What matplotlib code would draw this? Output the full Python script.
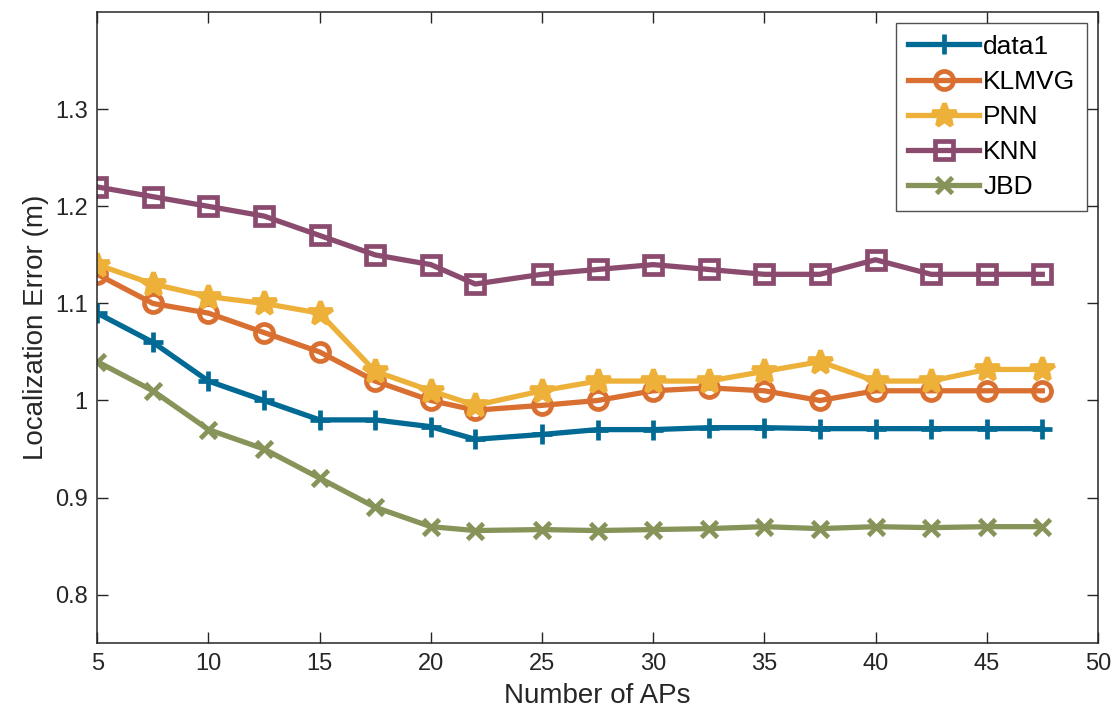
import numpy as np
import matplotlib.pyplot as plt

plt.rcParams['font.family'] = ['Liberation Sans', 'DejaVu Sans']

# number of access points
n_aps = [5, 7.5, 10, 12.5, 15, 17.5, 20, 22, 25, 27.5, 30, 32.5, 35, 37.5, 40, 42.5, 45, 47.5]

data1 = [1.09, 1.06, 1.02, 1.00, 0.98, 0.98, 0.973, 0.96, 0.965, 0.97, 0.97, 0.972,
         0.972, 0.971, 0.971, 0.971, 0.971, 0.971]
klmvg = [1.13, 1.10, 1.09, 1.07, 1.05, 1.02, 1.00, 0.99, 0.995, 1.00, 1.01, 1.013,
         1.01, 1.00, 1.01, 1.01, 1.01, 1.01]
pnn = [1.14, 1.12, 1.107, 1.10, 1.09, 1.03, 1.01, 0.995, 1.01, 1.02, 1.02, 1.02,
       1.03, 1.04, 1.02, 1.02, 1.032, 1.032]
knn = [1.22, 1.21, 1.20, 1.19, 1.17, 1.15, 1.14, 1.12, 1.13, 1.135, 1.14, 1.135,
       1.13, 1.13, 1.145, 1.13, 1.13, 1.13]
jbd = [1.04, 1.01, 0.97, 0.95, 0.92, 0.89, 0.87, 0.866, 0.867, 0.866, 0.867, 0.868,
       0.87, 0.868, 0.87, 0.869, 0.87, 0.87]

series = [
    ('data1', data1, '#006A94', '+', 15, 'none'),
    ('KLMVG', klmvg, '#D96F30', 'o', 13, 'none'),
    ('PNN', pnn, '#EDB13A', '*', 18, 'fill'),
    ('KNN', knn, '#8B4B6F', 's', 13, 'none'),
    ('JBD', jbd, '#879459', 'x', 11, 'none'),
]

fig = plt.figure(figsize=(11.18, 7.21), dpi=100)
ax = fig.add_axes([0.087, 0.108, 0.895, 0.875])

for name, vals, col, mk, ms, fill in series:
    mfc = col if fill == 'fill' else 'none'
    ax.plot(n_aps, vals, color=col, lw=3.8, marker=mk, markersize=ms,
            markeredgewidth=3.4, markerfacecolor=mfc, markeredgecolor=col, label=name)

ax.set_xlim(5, 50)
ax.set_ylim(0.75, 1.4)
ax.set_xticks(np.arange(5, 51, 5))
ax.set_yticks([0.8, 0.9, 1.0, 1.1, 1.2, 1.3])
ax.set_yticklabels(['0.8', '0.9', '1', '1.1', '1.2', '1.3'])

ax.tick_params(direction='in', length=8, width=1, top=True, right=True,
               labelsize=17, colors='#262626', pad=7)
for sp in ax.spines.values():
    sp.set_color('#262626')
    sp.set_linewidth(1.1)

ax.set_xlabel('Number of APs', fontsize=20, color='#262626', labelpad=6)
ax.set_ylabel('Localization Error (m)', fontsize=20, color='#262626', labelpad=4)

leg = ax.legend(loc='upper right', fontsize=19, frameon=True, fancybox=False,
                edgecolor='#262626', handlelength=2.7, handletextpad=0.15,
                borderaxespad=0.4, labelspacing=0.42, borderpad=0.45)
leg.get_frame().set_linewidth(1.0)

plt.savefig('out.png', dpi=100)
